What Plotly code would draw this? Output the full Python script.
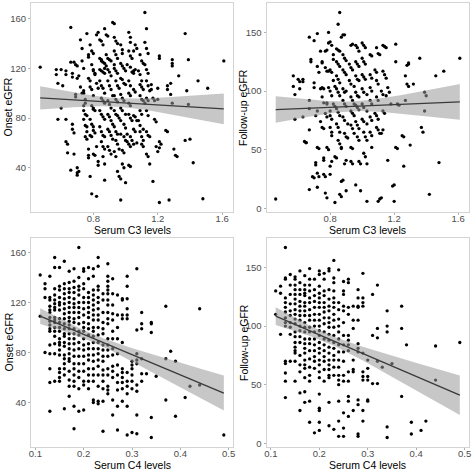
import numpy as np
import plotly.graph_objects as go

W, H = 472, 470

# ---------------- Panel A: Serum C3 vs Onset eGFR ----------------
c3_onset_x = [
    0.47, 0.57, 0.57, 0.58, 0.60, 0.60, 0.58, 0.61, 0.63, 0.63, 0.63, 0.63, 0.64, 0.64,
    0.66, 0.67, 0.67, 0.66, 0.66, 0.67, 0.67, 0.68, 0.68, 0.69, 0.69, 0.69, 0.68,
    0.70, 0.70, 0.70, 0.71, 0.70, 0.70, 0.71, 0.72, 0.72, 0.73,
    0.73, 0.73, 0.74, 0.74, 0.74, 0.75, 0.75, 0.74, 0.74, 0.75, 0.76,
    0.74, 0.75, 0.76, 0.76, 0.75, 0.76, 0.77, 0.76, 0.77, 0.77, 0.77, 0.78, 0.77, 0.77, 0.78,
    0.78, 0.79, 0.80, 0.79, 0.80, 0.80, 0.81, 0.81, 0.78, 0.79, 0.80,
    0.79, 0.80, 0.80, 0.81, 0.78, 0.79, 0.80, 0.80, 0.81, 0.78, 0.79, 0.80, 0.81, 0.79, 0.82,
    0.82, 0.83, 0.82, 0.83, 0.82, 0.83, 0.83,
    0.84, 0.85, 0.86, 0.84, 0.85, 0.85, 0.86, 0.87, 0.84, 0.85, 0.86, 0.87, 0.87,
    0.84, 0.85, 0.86, 0.87, 0.85, 0.86, 0.87, 0.84, 0.85, 0.86, 0.87,
    0.84, 0.85, 0.86, 0.87, 0.85, 0.86, 0.87, 0.86, 0.87, 0.87,
    0.87, 0.88, 0.89, 0.88, 0.89, 0.90, 0.91, 0.88, 0.89, 0.90, 0.91,
    0.89, 0.90, 0.91, 0.92, 0.89, 0.90, 0.91, 0.89, 0.90, 0.91, 0.92,
    0.89, 0.90, 0.91, 0.92, 0.89, 0.90, 0.91,
    0.92, 0.93, 0.93, 0.94, 0.95, 0.93, 0.94, 0.95, 0.93, 0.93, 0.94, 0.95,
    0.94, 0.95, 0.96, 0.93, 0.94, 0.95, 0.93, 0.94, 0.95, 0.96,
    0.93, 0.94, 0.95, 0.94, 0.95, 0.96, 0.93, 0.94, 0.95, 0.96, 0.97,
    0.97, 0.98, 0.98, 0.97, 0.98, 0.99, 1.00, 0.97, 0.98, 0.99, 1.00,
    0.97, 0.98, 0.99, 0.97, 0.98, 1.00, 0.97, 0.99, 1.00,
    0.97, 0.99, 1.00, 1.01, 0.98, 0.99, 0.98, 0.99, 0.97, 1.00,
    1.02, 1.03, 1.03, 1.02, 1.03, 1.04, 1.01, 1.03, 1.04, 1.05,
    1.02, 1.03, 1.05, 1.02, 1.03, 1.02, 1.03, 1.02, 1.03, 1.04,
    1.01, 1.03, 1.04, 1.02, 1.03, 1.02, 1.03,
    1.05, 1.06, 1.07, 1.05, 1.06, 1.06, 1.05, 1.06, 1.07, 1.05, 1.06, 1.05, 1.07,
    1.09, 1.10, 1.11, 1.08, 1.09, 1.10, 1.09, 1.10, 1.11,
    1.09, 1.10, 1.11, 1.12, 1.09, 1.10, 1.08, 1.09, 1.11, 1.09, 1.10, 1.11, 1.10, 1.11,
    1.12, 1.13, 1.12, 1.13, 1.14, 1.12, 1.13, 1.14, 1.13, 1.14, 1.15,
    1.13, 1.14, 1.13, 1.14, 1.13, 1.14, 1.15, 1.13, 1.14, 1.15,
    1.16, 1.16, 1.17, 1.18, 1.18, 1.19, 1.17, 1.19, 1.20, 1.21,
    1.21, 1.21, 1.20, 1.20, 1.21, 1.22, 1.21,
    1.25, 1.26, 1.26, 1.26, 1.27, 1.28, 1.29, 1.29, 1.29, 1.28, 1.29,
    1.30, 1.31, 1.32, 1.33, 1.37, 1.37, 1.38, 1.39, 1.40, 1.39, 1.42, 1.45, 1.48, 1.51, 1.61,
]
c3_onset_y = [
    121, 119, 115, 108, 119, 88, 79, 106, 118, 115, 79, 61, 59, 52,
    125, 116, 113, 153, 38, 75, 71, 68, 125, 123, 99, 97, 51,
    40, 36, 34, 37, 122, 112, 114, 143, 105, 100,
    136, 126, 120, 102, 100, 95, 92, 90, 86, 83, 82,
    79, 74, 73, 69, 65, 63, 55, 148, 131, 129, 112, 110, 50, 48, 33,
    139, 134, 132, 123, 119, 118, 116, 115, 105, 103, 98,
    90, 88, 87, 86, 79, 75, 73, 70, 68, 66, 65, 51, 50, 19, 17,
    147, 149, 108, 104, 57, 45, 42,
    143, 142, 139, 128, 127, 126, 125, 124, 119, 118, 117, 116, 120,
    110, 106, 104, 100, 96, 94, 92, 86, 83, 81, 79,
    73, 69, 66, 65, 61, 57, 55, 49, 43, 30,
    152, 147, 146, 131, 128, 127, 126, 122, 119, 117, 114,
    110, 106, 103, 98, 94, 91, 88, 83, 81, 78, 75,
    71, 69, 66, 63, 57, 54, 51,
    157, 156, 145, 142, 140, 134, 131, 128, 123, 120, 118, 116,
    110, 106, 104, 98, 95, 93, 86, 83, 82, 80,
    73, 69, 67, 62, 59, 55, 53, 49, 37, 33, 31,
    139, 135, 132, 124, 122, 120, 118, 112, 111, 108, 107,
    99, 96, 94, 88, 86, 83, 78, 75, 72,
    67, 65, 62, 61, 54, 52, 43, 40, 14, 28,
    149, 145, 141, 134, 130, 128, 123, 121, 117, 116,
    110, 106, 103, 100, 98, 92, 90, 83, 80, 78,
    67, 65, 62, 59, 57, 42, 41,
    134, 139, 136, 118, 119, 101, 82, 81, 78, 71, 69, 59, 60,
    131, 126, 124, 118, 115, 110, 107, 105, 103,
    98, 95, 94, 92, 86, 83, 78, 74, 71, 69, 65, 62, 59, 57,
    165, 152, 141, 136, 132, 123, 119, 116, 110, 106, 102,
    96, 94, 86, 82, 69, 66, 65, 51, 49, 43,
    107, 103, 96, 94, 79, 77, 29, 57, 53, 12,
    130, 128, 104, 95, 61, 59, 56,
    70, 69, 106, 103, 14, 108, 127, 124, 122, 99, 92,
    55, 50, 49, 114, 148, 62, 102, 91, 63, 127, 44, 110, 15, 104, 126,
]

# ---------------- Panel B: Serum C3 vs Follow-up eGFR ----------------
c3_follow_x = [
    0.46, 0.57, 0.57, 0.58, 0.58, 0.60, 0.61, 0.61, 0.63, 0.63, 0.63, 0.64, 0.65, 0.65,
    0.67, 0.67, 0.67, 0.67, 0.67, 0.68, 0.68, 0.69, 0.70, 0.70, 0.70, 0.70, 0.71, 0.72, 0.71, 0.71,
    0.72, 0.72, 0.73, 0.72, 0.73, 0.72, 0.73, 0.72,
    0.74, 0.75, 0.75, 0.74, 0.75, 0.76, 0.74, 0.75, 0.76, 0.75, 0.76, 0.76, 0.76, 0.76, 0.77,
    0.77, 0.78, 0.77, 0.78, 0.78, 0.78, 0.77, 0.78, 0.77, 0.78, 0.78, 0.79,
    0.79, 0.79, 0.80, 0.81, 0.79, 0.80, 0.81, 0.79, 0.80, 0.81, 0.80, 0.80, 0.81, 0.80, 0.81, 0.81, 0.80, 0.80, 0.81,
    0.82, 0.82, 0.82, 0.83, 0.82, 0.83, 0.83, 0.83, 0.84,
    0.84, 0.85, 0.86, 0.84, 0.85, 0.86, 0.84, 0.85, 0.86, 0.84, 0.85, 0.86, 0.84, 0.85, 0.86, 0.84, 0.85, 0.86, 0.85, 0.86,
    0.86, 0.85, 0.86, 0.87, 0.87, 0.87, 0.87, 0.88,
    0.87, 0.88, 0.89, 0.88, 0.89, 0.90, 0.88, 0.89, 0.90, 0.88, 0.89, 0.90, 0.88, 0.89, 0.90, 0.88, 0.89, 0.91, 0.89, 0.90, 0.91, 0.89, 0.90, 0.90,
    0.93, 0.94, 0.92, 0.93, 0.94, 0.92, 0.93, 0.95, 0.93, 0.94, 0.95, 0.93, 0.94, 0.95, 0.93, 0.94, 0.95, 0.93, 0.94, 0.93, 0.94, 0.96,
    0.96, 0.97, 0.98, 0.96, 0.97, 0.98, 0.96, 0.97, 0.98, 0.96, 0.97, 0.98, 0.96, 0.97, 0.98, 0.96, 0.97, 0.98, 0.97, 0.98, 0.98, 0.99, 0.99,
    1.00, 1.01, 1.02, 1.00, 1.01, 1.02, 1.00, 1.01, 1.02, 1.00, 1.01, 1.03, 1.00, 1.01, 1.03, 1.00, 1.01, 1.03, 1.01, 1.02, 1.03, 1.01, 1.02, 1.03, 1.03,
    1.05, 1.06, 1.05, 1.06, 1.05, 1.06, 1.05, 1.06, 1.05, 1.06, 1.05, 1.06, 1.06,
    1.09, 1.10, 1.11, 1.08, 1.09, 1.09, 1.10, 1.09, 1.10, 1.08, 1.09, 1.10, 1.09, 1.10, 1.11, 1.12, 1.11, 1.10,
    1.13, 1.14, 1.15, 1.13, 1.14, 1.15, 1.12, 1.13, 1.15, 1.13, 1.14, 1.12, 1.13, 1.16, 1.16, 1.17, 1.18,
    1.19, 1.20, 1.20, 1.21, 1.21, 1.21, 1.22, 1.22, 1.23, 1.25, 1.26, 1.26, 1.27, 1.27, 1.28, 1.29, 1.28, 1.29, 1.29, 1.30,
    1.32, 1.36, 1.37, 1.38, 1.39, 1.40, 1.39, 1.42, 1.46, 1.48, 1.51, 1.61,
]
c3_follow_y = [
    8, 113, 104, 97, 76, 110, 108, 102, 78, 110, 108, 57, 56, 56,
    146, 92, 85, 67, 16, 125, 127, 27, 26, 107, 103, 143, 79, 83, 39, 37,
    149, 121, 116, 30, 27, 52, 51, 18,
    134, 125, 124, 102, 95, 90, 74, 69, 68, 103, 102, 43, 41, 29, 27,
    134, 135, 120, 117, 90, 89, 81, 78, 13, 9, 52, 50,
    150, 141, 142, 139, 117, 118, 116, 103, 100, 96, 83, 79, 76, 69, 65, 62, 29, 36, 40,
    131, 127, 109, 104, 89, 87, 5, 44, 43,
    136, 135, 134, 125, 123, 121, 113, 110, 107, 102, 99, 96, 85, 82, 79, 72, 69, 65, 58, 55,
    167, 157, 12, 10, 52, 51, 23, 24,
    146, 148, 148, 131, 128, 126, 118, 116, 114, 102, 99, 100, 92, 89, 87, 78, 75, 72, 64, 61, 60, 38, 41, 15,
    139, 140, 123, 120, 118, 109, 106, 104, 95, 92, 89, 83, 81, 79, 71, 68, 64, 52, 51, 40, 38, 20,
    139, 137, 134, 125, 123, 121, 113, 110, 109, 99, 96, 95, 88, 86, 84, 74, 71, 68, 61, 58, 40, 38, 15,
    141, 139, 137, 128, 125, 123, 114, 112, 110, 102, 99, 97, 89, 86, 83, 76, 74, 72, 65, 61, 58, 47, 44, 38, 6,
    131, 130, 114, 111, 103, 100, 92, 89, 78, 75, 65, 62, 52,
    137, 132, 131, 118, 116, 109, 106, 95, 92, 81, 79, 76, 69, 67, 64, 9, 8, 6,
    139, 138, 137, 117, 114, 111, 100, 97, 96, 83, 81, 64, 67, 41, 103, 99, 89,
    19, 20, 6, 140, 125, 52, 51, 89, 88, 62, 61, 36, 113, 92, 122, 123, 106, 104, 124, 54,
    106, 128, 69, 65, 99, 96, 83, 12, 113, 39, 117, 128,
]

# ---------------- Panels C/D: Serum C4 (discrete levels) ----------------
c4_levels = [0.11, 0.12, 0.13, 0.14, 0.15, 0.16, 0.17, 0.18, 0.19, 0.20,
             0.21, 0.22, 0.23, 0.24, 0.25, 0.26, 0.27, 0.28, 0.29, 0.30,
             0.31, 0.32, 0.33, 0.34, 0.35, 0.37, 0.38, 0.39, 0.41, 0.42,
             0.44, 0.49]

c4_onset_by_level = [
    [142, 109],
    [135, 131, 124, 80],
    [141, 124, 122, 117, 114, 112, 108, 105, 102, 99, 97, 86, 79, 67, 56, 33],
    [156, 148, 131, 126, 122, 119, 116, 114, 108, 106, 104, 100, 97, 93, 87, 79, 57],
    [148, 133, 130, 124, 120, 118, 114, 107, 104, 100, 97, 91, 88, 86, 82, 78, 67, 64, 60, 57],
    [153, 135, 131, 127, 123, 119, 115, 111, 107, 103, 99, 95, 93, 88, 85, 78, 75, 71, 67, 62, 35],
    [145, 136, 131, 128, 124, 120, 116, 112, 108, 105, 102, 99, 95, 91, 87, 83, 79, 75, 73, 65, 58, 53, 45],
    [147, 137, 132, 128, 123, 119, 116, 112, 107, 104, 99, 95, 91, 87, 82, 77, 71, 67, 62, 57, 53, 37, 19],
    [164, 140, 133, 130, 126, 120, 116, 112, 108, 103, 97, 94, 88, 83, 77, 71, 65, 60, 51, 33],
    [147, 145, 135, 131, 124, 120, 115, 110, 104, 100, 97, 91, 86, 82, 77, 71, 65, 57, 54, 34],
    [148, 139, 128, 124, 120, 116, 112, 108, 103, 99, 94, 87, 83, 78, 74, 67, 62, 57, 51],
    [147, 141, 130, 126, 122, 118, 114, 110, 106, 100, 97, 93, 88, 83, 78, 73, 67, 62, 57, 42, 40],
    [156, 149, 133, 130, 124, 120, 115, 110, 106, 100, 94, 88, 83, 79, 74, 69, 62, 53, 41, 39],
    [127, 122, 112, 104, 99, 95, 86, 82, 77, 73, 66, 62, 57, 51, 41, 17],
    [151, 141, 137, 133, 130, 127, 122, 118, 112, 107, 103, 91, 86, 82, 77, 67, 62, 53, 50, 47],
    [139, 127, 118, 111, 106, 97, 91, 83, 78, 69, 65, 60, 42, 30],
    [126, 110, 100, 91, 79, 70, 62, 56, 50, 37, 18],
    [123, 122, 110, 107, 88, 67, 64, 60, 56, 51, 41],
    [141, 133, 123, 115, 110, 107, 64, 57, 53, 47, 37, 14],
    [73, 70, 67, 62, 57, 51, 16],
    [147, 98, 79, 74, 71, 54, 49, 30, 15],
    [112, 103, 99, 75, 63, 57],
    [63],
    [104, 103, 96, 28, 12],
    [61],
    [117, 75, 42],
    [81],
    [73, 29],
    [44],
    [53],
    [115, 54],
    [14],
]

c4_follow_by_level = [
    [130, 110],
    [134, 128, 93],
    [167, 141, 140, 124, 120, 116, 112, 107, 103, 100, 70, 68, 60, 53, 39],
    [144, 135, 127, 119, 113, 109, 103, 99, 93, 70],
    [142, 140, 135, 131, 127, 123, 119, 114, 110, 106, 102, 95, 91, 86, 82, 79, 77, 70, 53],
    [147, 137, 131, 127, 121, 117, 113, 109, 105, 100, 96, 91, 86, 75, 67, 61, 43, 28],
    [143, 135, 131, 128, 126, 120, 117, 113, 109, 103, 99, 95, 89, 85, 81, 77, 71, 67, 64, 56, 44, 35],
    [149, 140, 135, 130, 124, 120, 114, 109, 105, 99, 95, 89, 85, 79, 72, 65, 58, 53, 36, 18],
    [140, 131, 126, 121, 116, 110, 105, 100, 95, 89, 84, 79, 74, 70, 64, 9],
    [147, 144, 134, 128, 124, 120, 116, 110, 105, 100, 96, 92, 86, 81, 77, 71, 67, 61, 56, 42, 30, 28, 18, 11],
    [145, 140, 130, 126, 120, 116, 112, 107, 102, 95, 89, 84, 79, 74, 70, 63, 53],
    [149, 147, 131, 123, 117, 113, 107, 103, 99, 93, 88, 82, 77, 71, 67, 63, 58, 56, 35, 15],
    [156, 141, 137, 130, 124, 120, 116, 110, 105, 99, 92, 86, 81, 75, 71, 65, 58, 12],
    [148, 120, 114, 106, 100, 95, 89, 84, 78, 71, 65, 58, 54, 50, 36, 19, 6],
    [138, 130, 127, 117, 113, 103, 92, 84, 78, 70, 58, 53, 26, 13, 6],
    [140, 137, 116, 110, 92, 88, 84, 79, 61, 53, 40, 36, 23],
    [117, 105, 98, 71, 63, 61, 28],
    [131, 124, 117, 116, 105, 85, 81, 78, 37, 33, 8, 6],
    [145, 124, 120, 117, 77, 61, 57, 54, 28, 19],
    [71, 64, 57, 54, 37, 36],
    [127, 92, 51],
    [135, 98, 90, 70, 51],
    [65],
    [113, 100, 95, 14, 5],
    [68],
    [117, 98, 40],
    [84],
    [18, 8],
    [11],
    [19],
    [83, 54],
    [86],
]

c3_ticks = [0.8, 1.2, 1.6]
c4_ticks = [0.1, 0.2, 0.3, 0.4, 0.5]
onset_ticks = [40, 80, 120, 160]
follow_ticks = [0, 50, 100, 150]


def expand_cols(levels, cols):
    xs, ys = [], []
    for lv, col in zip(levels, cols):
        for v in col:
            xs.append(lv)
            ys.append(v)
    return xs, ys


c4_onset_x, c4_onset_y = expand_cols(c4_levels, c4_onset_by_level)
c4_follow_x, c4_follow_y = expand_cols(c4_levels, c4_follow_by_level)

# panel rectangles in page pixels (left, right), (top, bottom)
panels = [
    dict(x=c3_onset_x, y=c3_onset_y, xt=c3_ticks, yt=onset_ticks,
         xtitle="Serum C3 levels", ytitle="Onset eGFR", px=(31, 233), py=(3, 212)),
    dict(x=c3_follow_x, y=c3_follow_y, xt=c3_ticks, yt=follow_ticks,
         xtitle="Serum C3 levels", ytitle="Follow-up eGFR", px=(266.5, 469), py=(3, 212)),
    dict(x=c4_onset_x, y=c4_onset_y, xt=c4_ticks, yt=onset_ticks,
         xtitle="Serum C4 levels", ytitle="Onset eGFR", px=(31, 233), py=(238, 447)),
    dict(x=c4_follow_x, y=c4_follow_y, xt=c4_ticks, yt=follow_ticks,
         xtitle="Serum C4 levels", ytitle="Follow-up eGFR", px=(266.5, 469), py=(238, 447)),
]


def fx(px):
    return px / W


def fy(py):
    return 1 - py / H


fig = go.Figure()
layout = dict(
    width=W, height=H, margin=dict(l=0, r=0, t=0, b=0, autoexpand=False),
    paper_bgcolor="white", plot_bgcolor="white", showlegend=False,
    font=dict(family="Liberation Sans, Arial, sans-serif"),
)
annotations = []

for i, p in enumerate(panels, start=1):
    x = np.array(p["x"], float)
    y = np.array(p["y"], float)
    n = len(x)
    # linear fit + 95% confidence band
    b, a = np.polyfit(x, y, 1)
    resid = y - (a + b * x)
    s = np.sqrt(np.sum(resid ** 2) / (n - 2))
    xbar = x.mean()
    sxx = np.sum((x - xbar) ** 2)
    xg = np.linspace(x.min(), x.max(), 80)
    yg = a + b * xg
    se = s * np.sqrt(1.0 / n + (xg - xbar) ** 2 / sxx)
    tcrit = 1.966
    up, lo = yg + tcrit * se, yg - tcrit * se

    xa = "x" if i == 1 else f"x{i}"
    ya = "y" if i == 1 else f"y{i}"

    fig.add_trace(go.Scatter(x=x, y=y, mode="markers", xaxis=xa, yaxis=ya,
                             marker=dict(color="black", size=3.3, line=dict(width=0)),
                             hoverinfo="skip"))
    fig.add_trace(go.Scatter(x=np.concatenate([xg, xg[::-1]]),
                             y=np.concatenate([up, lo[::-1]]),
                             mode="lines", fill="toself", xaxis=xa, yaxis=ya,
                             fillcolor="rgba(153,153,153,0.55)", line=dict(width=0),
                             hoverinfo="skip"))
    fig.add_trace(go.Scatter(x=xg, y=yg, mode="lines", xaxis=xa, yaxis=ya,
                             line=dict(color="#3a3a3a", width=1.3), hoverinfo="skip"))

    xspan = x.max() - x.min()
    yspan = y.max() - y.min()
    xr = [x.min() - 0.05 * xspan, x.max() + 0.05 * xspan]
    yr = [y.min() - 0.05 * yspan, y.max() + 0.05 * yspan]

    x0, x1 = p["px"]
    y0, y1 = p["py"]
    axis_common = dict(showgrid=False, zeroline=False, showline=True, mirror=True,
                       linecolor="#d4d4d4", linewidth=1, ticks="outside", ticklen=2,
                       tickwidth=1, tickcolor="#b0b0b0", automargin=False,
                       tickfont=dict(size=9.5, color="#4d4d4d"))
    layout["xaxis" if i == 1 else f"xaxis{i}"] = dict(
        axis_common, domain=[fx(x0), fx(x1)], range=xr, anchor=ya,
        ticklabelstandoff=-4,
        tickvals=p["xt"], ticktext=[f"{v:g}" for v in p["xt"]])
    layout["yaxis" if i == 1 else f"yaxis{i}"] = dict(
        axis_common, domain=[fy(y1), fy(y0)], range=yr, anchor=xa,
        tickvals=p["yt"], ticktext=[f"{v:g}" for v in p["yt"]])

    cx = (x0 + x1) / 2
    cy = (y0 + y1) / 2
    annotations.append(dict(text=p["xtitle"], x=fx(cx), y=fy(y1 + 18),
                            xref="paper", yref="paper", showarrow=False,
                            xanchor="center", yanchor="middle",
                            font=dict(size=10.5, color="black")))
    annotations.append(dict(text=p["ytitle"], x=fx(x0 - 23), y=fy(cy),
                            xref="paper", yref="paper", showarrow=False,
                            textangle=-90, xanchor="center", yanchor="middle",
                            font=dict(size=10.5, color="black")))

layout["annotations"] = annotations
fig.update_layout(**layout)
fig.write_html(
    "out.html",
    config={"displayModeBar": False, "staticPlot": True},
    post_script="document.body.style.margin='0';document.body.style.overflow='hidden';",
)
